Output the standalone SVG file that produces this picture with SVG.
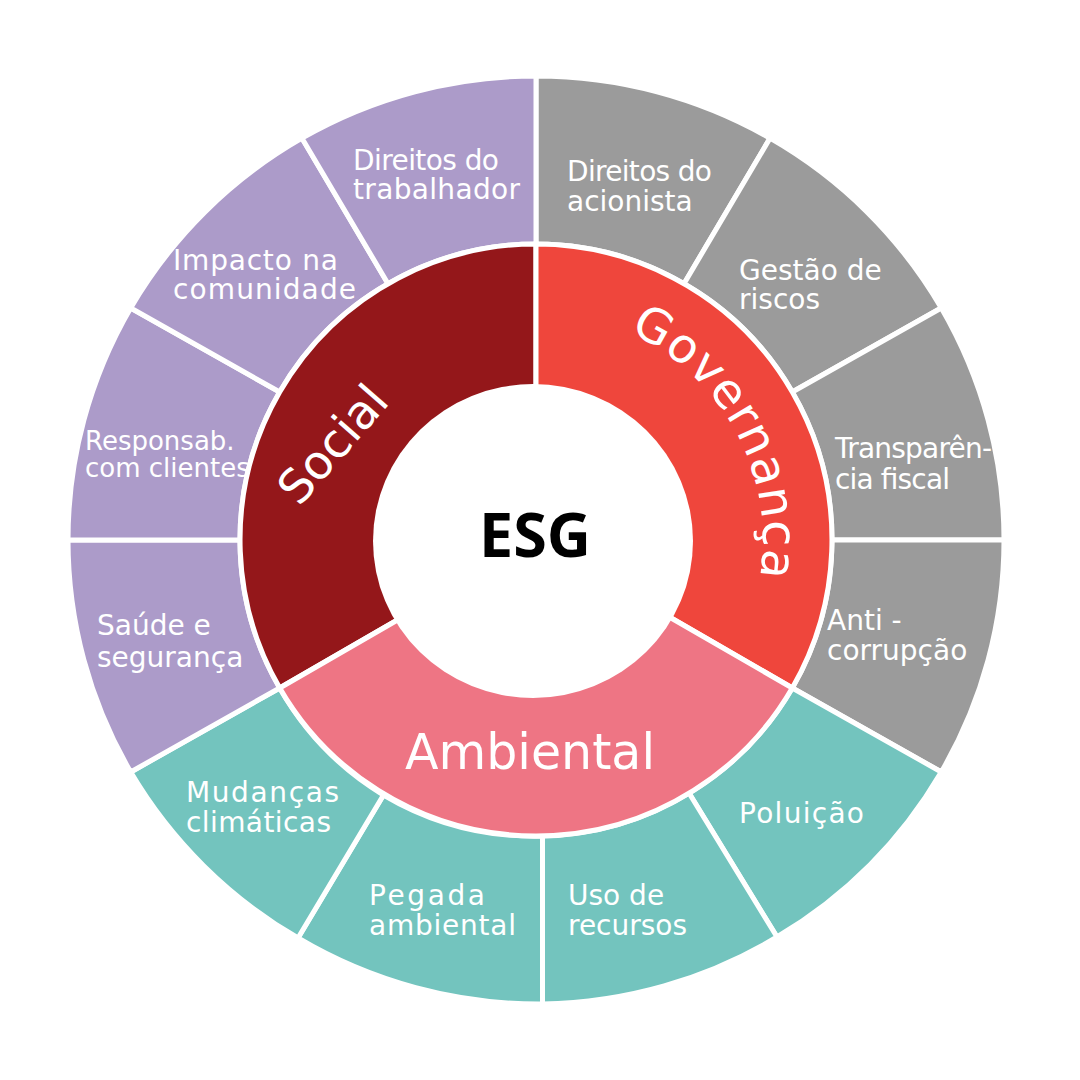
<svg xmlns="http://www.w3.org/2000/svg" width="1080" height="1080" viewBox="0 0 1080 1080">
<style>
.seg{stroke:#fff;stroke-width:5;stroke-linejoin:miter}
.gray{fill:#9B9B9B}.teal{fill:#73C4BE}.purple{fill:#AC9BC9}
.soc{fill:#94171A}.gov{fill:#EF463C}.amb{fill:#EE7584}
.lbl{font-family:"DejaVu Sans","Liberation Sans",sans-serif;font-size:28px;fill:#fff}
.big{font-family:"DejaVu Sans","Liberation Sans",sans-serif;fill:#fff}
</style>
<defs>
<path id="govArc" d="M 543 312.1 A 228 228 0 0 1 728.3 660.8"/>
</defs>
<rect width="1080" height="1080" fill="#fff"/>

<g id="outer-ring">
<g id="direitos-acionista">
<path class="seg gray" d="M 536 244 L 536 76 A 468 464 0 0 1 770 138.2 L 684 283.7 A 296 296 0 0 0 536 244 Z"/>
<text class="lbl"><tspan x="567" y="181" textLength="145">Direitos do</tspan><tspan x="567" y="211">acionista</tspan></text>
</g>
<g id="gestao-riscos">
<path class="seg gray" d="M 684 283.7 L 770 138.2 A 468 464 0 0 1 941.3 308 L 792.3 392 A 296 296 0 0 0 684 283.7 Z"/>
<text class="lbl"><tspan x="739" y="280">Gestão de</tspan><tspan x="739" y="309">riscos</tspan></text>
</g>
<g id="transparencia">
<path class="seg gray" d="M 792.3 392 L 941.3 308 A 468 464 0 0 1 1004 540 L 832 540 A 296 296 0 0 0 792.3 392 Z"/>
<text class="lbl"><tspan x="835" y="458" textLength="157">Transparên-</tspan><tspan x="835" y="489" textLength="115">cia fiscal</tspan></text>
</g>
<g id="anticorrupcao">
<path class="seg gray" d="M 832 540 L 1004 540 A 468 464 0 0 1 941.3 772 L 792.3 688 A 296 296 0 0 0 832 540 Z"/>
<text class="lbl"><tspan x="827" y="630">Anti -</tspan><tspan x="827" y="660">corrupção</tspan></text>
</g>
<g id="poluicao">
<path class="seg teal" d="M 792.3 688 L 941.3 772 A 468 464 0 0 1 777 937 L 689 793 A 296 296 0 0 0 792.3 688 Z"/>
<text class="lbl"><tspan x="739" y="823" textLength="125">Poluição</tspan></text>
</g>
<g id="uso-recursos">
<path class="seg teal" d="M 689 793 L 777 937 A 468 464 0 0 1 542.5 1004 L 542.5 836 A 296 296 0 0 0 689 793 Z"/>
<text class="lbl"><tspan x="568" y="905">Uso de</tspan><tspan x="568" y="935">recursos</tspan></text>
</g>
<g id="pegada-ambiental">
<path class="seg teal" d="M 542.5 836 L 542.5 1004 A 468 464 0 0 1 298 938 L 383.5 795 A 296 296 0 0 0 542.5 836 Z"/>
<text class="lbl"><tspan x="369" y="905" textLength="116">Pegada</tspan><tspan x="369" y="935" textLength="147">ambiental</tspan></text>
</g>
<g id="mudancas-climaticas">
<path class="seg teal" d="M 383.5 795 L 298 938 A 468 464 0 0 1 130.7 772 L 279.7 688 A 296 296 0 0 0 383.5 795 Z"/>
<text class="lbl"><tspan x="186" y="802" textLength="153">Mudanças</tspan><tspan x="186" y="832" textLength="145">climáticas</tspan></text>
</g>
<g id="saude-seguranca">
<path class="seg purple" d="M 279.7 688 L 130.7 772 A 468 464 0 0 1 68 540 L 240 540 A 296 296 0 0 0 279.7 688 Z"/>
<text class="lbl"><tspan x="97" y="635">Saúde e</tspan><tspan x="97" y="667">segurança</tspan></text>
</g>
<g id="responsab-clientes">
<path class="seg purple" d="M 240 540 L 68 540 A 468 464 0 0 1 130.7 308 L 279.7 392 A 296 296 0 0 0 240 540 Z"/>
<text class="lbl" style="font-size:26px"><tspan x="85" y="450">Responsab.</tspan><tspan x="85" y="477">com clientes</tspan></text>
</g>
<g id="impacto-comunidade">
<path class="seg purple" d="M 279.7 392 L 130.7 308 A 468 464 0 0 1 302 138.2 L 388 283.7 A 296 296 0 0 0 279.7 392 Z"/>
<text class="lbl"><tspan x="173" y="270" textLength="165">Impacto na</tspan><tspan x="173" y="299" textLength="183">comunidade</tspan></text>
</g>
<g id="direitos-trabalhador">
<path class="seg purple" d="M 388 283.7 L 302 138.2 A 468 464 0 0 1 536 76 L 536 244 A 296 296 0 0 0 388 283.7 Z"/>
<text class="lbl"><tspan x="353" y="170" textLength="146">Direitos do</tspan><tspan x="353" y="199" textLength="167">trabalhador</tspan></text>
</g>
</g>

<g id="middle-ring">
<g id="social">
<path class="seg soc" d="M 406.1 615 L 279.7 688 A 296 296 0 0 1 536 244 L 536 390 A 150 150 0 0 0 406.1 615 Z"/>
</g>
<g id="governanca">
<path class="seg gov" d="M 536 390 L 536 244 A 296 296 0 0 1 792.3 688 L 665.9 615 A 150 150 0 0 0 536 390 Z"/>
</g>
<g id="ambiental">
<path class="seg amb" d="M 665.9 615 L 792.3 688 A 296 296 0 0 1 279.7 688 L 406.1 615 A 150 150 0 0 0 665.9 615 Z"/>
</g>
</g>

<g id="esg">
<ellipse cx="533" cy="541" rx="160" ry="157" fill="#fff"/>
<text x="535" y="557" text-anchor="middle" style="font-family:'Open Sans','Lato','Liberation Sans',sans-serif;font-weight:bold;font-size:61px;fill:#000">ESG</text>
</g>

<g id="ring-labels">
<text class="big" style="font-size:47px" text-anchor="middle" transform="rotate(-49 345 455)" x="345" y="455">Social</text>
<text class="big" style="font-size:48px;letter-spacing:1px"><textPath href="#govArc" startOffset="50%" text-anchor="middle">Governança</textPath></text>
<text class="big" style="font-size:49px" x="530" y="769" text-anchor="middle">Ambiental</text>
</g>
</svg>
